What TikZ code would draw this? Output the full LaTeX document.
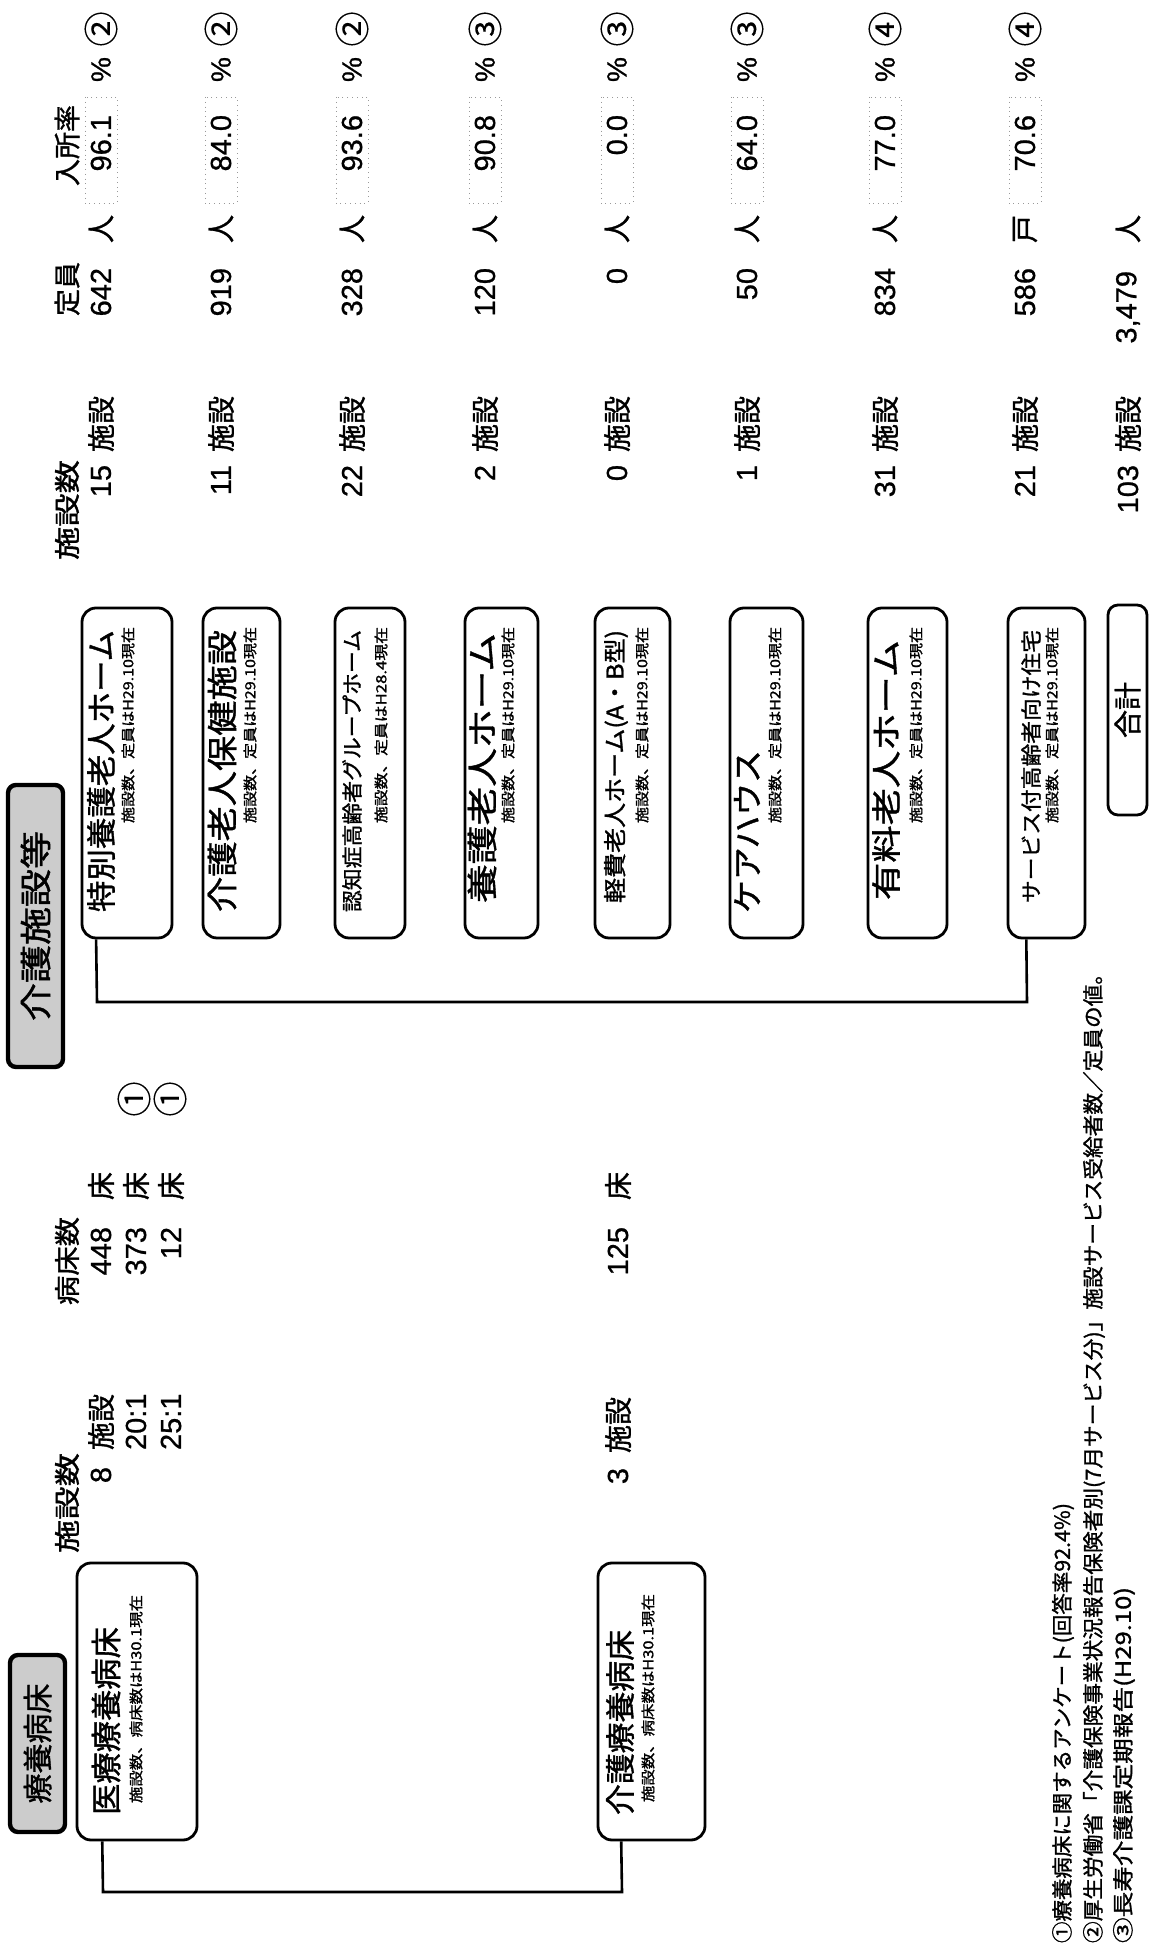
\documentclass[tikz,border=0pt]{standalone}
\usepackage{fontspec}
\setmainfont{Noto Sans CJK JP}[FakeBold=1.2]
\newfontfamily\numf{Liberation Sans}[FakeBold=0.8]
\newfontfamily\circf{Noto Sans CJK JP}[FakeBold=0.3]
\usetikzlibrary{calc}
\newcommand{\fw}[2]{\resizebox{#1}{\height}{#2}}
\newcommand{\fs}[1]{\fontsize{#1}{#1}\selectfont}
\begin{document}
\begin{tikzpicture}[x=0.5pt,y=0.5pt,
  rbox/.style={draw, line width=1.4pt, rounded corners=7pt, fill=white, inner sep=0pt},
  hdr/.style={draw, line width=2.2pt, rounded corners=4pt, fill=black!20, inner sep=0pt},
  conn/.style={line width=1.3pt},
  txt/.style={inner sep=0pt, outer sep=0pt},
  lab/.style={txt, font=\fs{13.5pt}},
  numt/.style={txt, font=\numf\fs{14.5pt}},
  unit/.style={txt, font=\fs{14pt}},
  circ/.style={txt, font=\circf\fs{17.5pt}},
  pct/.style={txt, font=\numf\fs{14pt}},
  pbox/.style={draw=black!40, dotted, line width=0.4pt, minimum width=53pt, minimum height=16pt, inner sep=0pt},
  foot/.style={txt, anchor=west, font=\fs{10.5pt}},
]
\useasboundingbox (0,0) rectangle (1153,1956);
\fill[white] (0,0) rectangle (1153,1956);
\begin{scope}[rotate=90, transform shape]
% ---------- headers
\node[hdr, minimum width=88.5pt, minimum height=27.5pt] (hA) at (212.5,-37.5) {\fs{15pt}療養病床};
\node[hdr, minimum width=141pt, minimum height=27.5pt] (hB) at (1030,-35.5) {\fw{95pt}{\fs{16pt}介護施設等}};

% ---------- left boxes
\node[rbox, minimum width=138.5pt, minimum height=60pt] (iryo) at (254.5,-137) {};
\node[txt, anchor=west] (iryoM) at (141,-106) {\fw{94pt}{\fs{15.5pt}医療療養病床}};
\node[txt, anchor=west] (iryoS) at (153,-136) {\fw{104pt}{\fs{7pt}施設数、病床数はH30.1現在}};

\node[rbox, minimum width=138.5pt, minimum height=53.5pt] (kaigo) at (254.5,-651.5) {};
\node[txt, anchor=west] (kaigoM) at (141,-620) {\fw{92.5pt}{\fs{15pt}介護療養病床}};
\node[txt, anchor=west] (kaigoS) at (154,-648) {\fw{104pt}{\fs{7pt}施設数、病床数はH30.1現在}};

\coordinate (lbA) at (64,-103);
\coordinate (lbB) at (64,-622);
\draw[conn] ($(iryo.north west)!0.217!(iryo.south west)$) -- (lbA) -- (lbB) -- ($(kaigo.north west)!0.224!(kaigo.south west)$);

% ---------- left numbers
\node[lab, anchor=east] (lS) at (503,-67) {\fw{50pt}{\fs{13pt}施設数}};
\node[lab, anchor=east] (lB) at (739,-67) {\fw{44pt}{\fs{13pt}病床数}};
\node[numt, anchor=east] (l8) at (489,-101) {8};
\node[unit, anchor=west] (l8u) at (506,-101) {施設};
\node[numt, anchor=west] (l20) at (506,-136) {20:1};
\node[numt, anchor=west] (l25) at (506,-171) {25:1};
\node[numt, anchor=east] (b1) at (729,-101) {448};
\node[numt, anchor=east] (b2) at (729,-136) {373};
\node[numt, anchor=east] (b3) at (729,-171) {12};
\node[unit, anchor=west] (b1u) at (756,-101) {床};
\node[unit, anchor=west] (b2u) at (756,-136) {床};
\node[unit, anchor=west] (b3u) at (756,-171) {床};
\node[circ, anchor=center] (b2c) at (857,-134) {①};
\node[circ, anchor=center] (b3c) at (857,-170) {①};
\node[numt, anchor=east] (l3) at (488,-618) {3};
\node[unit, anchor=west] (l3u) at (503,-618) {施設};
\node[numt, anchor=east] (b4) at (729,-618) {125};
\node[unit, anchor=west] (b4u) at (756,-618) {床};

% ---------- right boxes
\node[rbox, minimum width=165pt, minimum height=45pt] (k1) at (1183,-127) {};
\node[txt, anchor=west] (k1m) at (1044,-101) {\fw{141pt}{\fs{15pt}特別養護老人ホーム}};
\node[txt, anchor=west] (k1s) at (1133,-128) {\fw{98pt}{\fs{7pt}施設数、定員はH29.10現在}};

\node[rbox, minimum width=165pt, minimum height=38.5pt] (k2) at (1183,-241.5) {};
\node[txt, anchor=west] (k2m) at (1044,-222) {\fw{141pt}{\fs{15.5pt}介護老人保健施設}};
\node[txt, anchor=west] (k2s) at (1133,-250) {\fw{98pt}{\fs{7pt}施設数、定員はH29.10現在}};

\node[rbox, minimum width=165pt, minimum height=35pt] (k3) at (1183,-370) {};
\node[txt, anchor=west] (k3m) at (1044,-352) {\fw{141pt}{\fs{10.5pt}認知症高齢者グループホーム}};
\node[txt, anchor=west] (k3s) at (1133,-381) {\fw{98pt}{\fs{7pt}施設数、定員はH28.4現在}};

\node[rbox, minimum width=165pt, minimum height=36.5pt] (k4) at (1183,-501.5) {};
\node[txt, anchor=west] (k4m) at (1053,-482) {\fw{135pt}{\fs{15.5pt}養護老人ホーム}};
\node[txt, anchor=west] (k4s) at (1133,-508) {\fw{98pt}{\fs{7pt}施設数、定員はH29.10現在}};

\node[rbox, minimum width=165pt, minimum height=37.5pt] (k5) at (1183,-632.5) {};
\node[txt, anchor=west] (k5m) at (1053,-616) {\fw{136.5pt}{\fs{11.5pt}軽費老人ホーム(A・B型)}};
\node[txt, anchor=west] (k5s) at (1133,-642) {\fw{98pt}{\fs{7pt}施設数、定員はH29.10現在}};

\node[rbox, minimum width=165pt, minimum height=36.5pt] (k6) at (1183,-766.5) {};
\node[txt, anchor=west] (k6m) at (1043,-747) {\fw{81.5pt}{\fs{15.5pt}ケアハウス}};
\node[txt, anchor=west] (k6s) at (1133,-775) {\fw{98pt}{\fs{7pt}施設数、定員はH29.10現在}};

\node[rbox, minimum width=165pt, minimum height=39.5pt] (k7) at (1183,-907.5) {};
\node[txt, anchor=west] (k7m) at (1056,-886) {\fw{130pt}{\fs{15pt}有料老人ホーム}};
\node[txt, anchor=west] (k7s) at (1133,-916) {\fw{98pt}{\fs{7pt}施設数、定員はH29.10現在}};

\node[rbox, minimum width=165pt, minimum height=38.5pt] (k8) at (1183,-1046.5) {};
\node[txt, anchor=west] (k8m) at (1053,-1031) {\fw{136.5pt}{\fs{10.5pt}サービス付高齢者向け住宅}};
\node[txt, anchor=west] (k8s) at (1133,-1052) {\fw{98pt}{\fs{7pt}施設数、定員はH29.10現在}};

\node[rbox, rounded corners=5pt, minimum width=105pt, minimum height=19.5pt] (kT) at (1246,-1127.5) {\fs{14pt}合計};

\coordinate (rbA) at (954,-97);
\coordinate (rbB) at (954,-1027);
\draw[conn] ($(k1.north west)!0.167!(k1.south west)$) -- (rbA) -- (rbB) -- ($(k8.north west)!0.247!(k8.south west)$);

% ---------- right numbers
\node[lab, anchor=east] (rS) at (1496,-67) {\fw{50pt}{\fs{13pt}施設数}};
\node[lab, anchor=east] (rT) at (1694,-67) {定員};
\node[lab, anchor=east] (rP) at (1851,-67) {入所率};
\foreach \y/\n/\c/\u/\p/\r [count=\i] in {101/15/642/人/96.1/②, 221/11/919/人/84.0/②, 352/22/328/人/93.6/②, 485/2/120/人/90.8/③, 617/0/0/人/0.0/③, 747/1/50/人/64.0/③, 885/31/834/人/77.0/④, 1025/21/586/戸/70.6/④}{
  \node[numt, anchor=east] (n\i) at (1491,-\y) {\n};
  \node[unit, anchor=west] (nu\i) at (1504,-\y) {施設};
  \node[numt, anchor=east] (c\i) at (1688,-\y) {\c};
  \node[unit, anchor=west] (cu\i) at (1713,-\y) {\u};
  \node[pbox] (pb\i) at (1806,-\y) {};
  \node[numt, anchor=east] (p\i) at (1841,-\y) {\p};
  \node[pct, anchor=west] (pc\i) at (1874,-\y) {\%};
  \node[circ, anchor=center] (r\i) at (1927,-\y) {\r};
}
\node[numt, anchor=east] (n9) at (1491,-1128) {103};
\node[unit, anchor=west] (nu9) at (1504,-1128) {施設};
\node[numt, anchor=east] (c9) at (1685,-1128) {3,479};
\node[unit, anchor=west] (cu9) at (1713,-1128) {人};

% ---------- footnotes
\node[foot] (f1) at (13,-1063) {\fw{220pt}{\fs{10.5pt}①療養病床に関するアンケート(回答率92.4\%)}};
\node[foot] (f2) at (13,-1094) {\fw{490pt}{\fs{10.5pt}②厚生労働省「介護保険事業状況報告保険者別(7月サービス分)」施設サービス受給者数／定員の値。}};
\node[foot] (f3) at (13,-1124) {\fw{178pt}{\fs{10.5pt}③長寿介護課定期報告(H29.10)}};
\end{scope}
\end{tikzpicture}
\end{document}
